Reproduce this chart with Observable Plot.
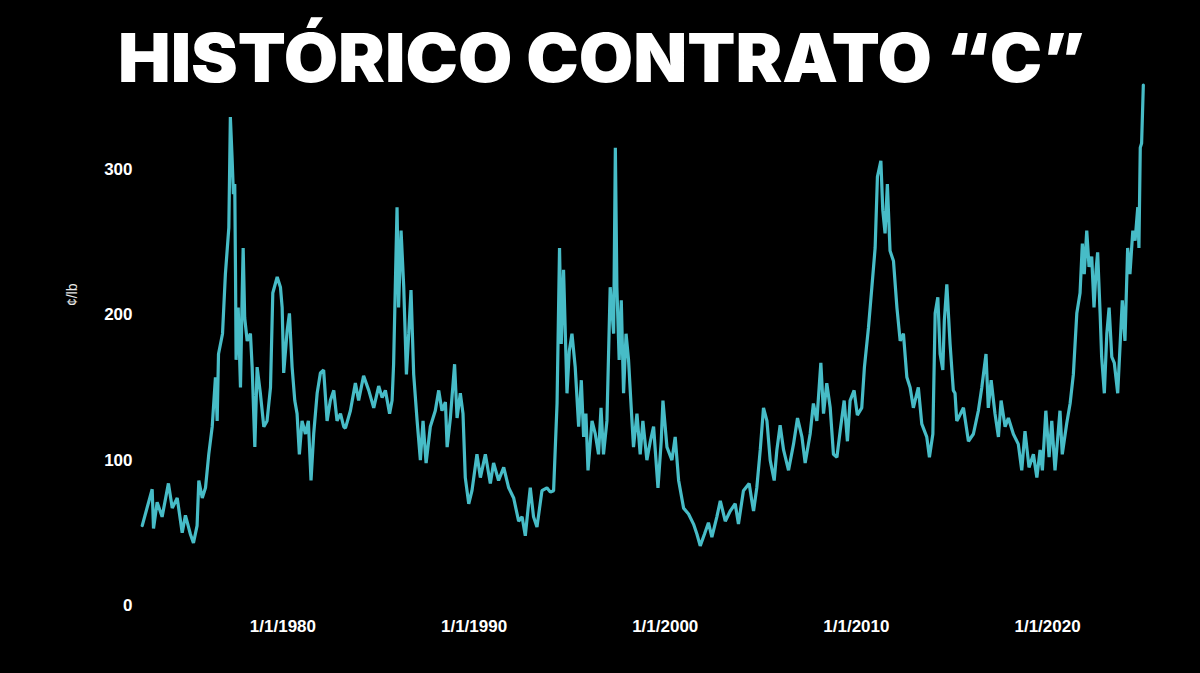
<!DOCTYPE html>
<html>
<head>
<meta charset="utf-8">
<script src="https://cdn.jsdelivr.net/npm/d3@7"></script>
<script src="https://cdn.jsdelivr.net/npm/@observablehq/plot@0.6"></script>
<style>
  html, body { margin: 0; padding: 0; background: #000; }
  #title { display: block; width: 1200px; height: 80px; overflow: visible; }
  #chart svg { overflow: visible; }
</style>
</head>
<body>
<svg id="title" width="1200" height="80">
  <text x="118" y="82" textLength="967" lengthAdjust="spacingAndGlyphs"
        fill="#fff" font-family="Inter, 'Open Sans', sans-serif" font-weight="900" font-size="67">HISTÓRICO CONTRATO “C”</text>
</svg>
<div id="chart"></div>
<script>
// Coffee "C" contract, ¢/lb
const years = [
  1972.64,1973.16,1973.23,1973.42,1973.68,1974.01,1974.21,1974.47,1974.73,1974.90,
  1975.16,1975.32,1975.51,1975.60,1975.78,1975.95,1976.12,1976.30,1976.47,1976.56,
  1976.63,1976.84,1976.99,1977.17,1977.25,1977.34,1977.41,1977.48,1977.52,1977.55,
  1977.66,1977.78,1977.87,1977.92,1978.00,1978.13,1978.30,1978.39,1978.53,1978.65,
  1978.82,1979.00,1979.17,1979.35,1979.47,1979.70,1979.87,1979.96,1980.04,1980.22,
  1980.34,1980.48,1980.62,1980.74,1980.86,1981.00,1981.18,1981.33,1981.47,1981.61,
  1981.79,1981.96,1982.13,1982.31,1982.48,1982.66,1982.83,1983.01,1983.18,1983.27,
  1983.53,1983.79,1983.96,1984.22,1984.49,1984.75,1985.01,1985.19,1985.36,1985.58,
  1985.71,1985.79,1985.97,1986.05,1986.18,1986.32,1986.46,1986.58,1986.70,1986.84,
  1987.02,1987.19,1987.33,1987.49,1987.71,1987.97,1988.15,1988.32,1988.50,1988.59,
  1988.76,1988.98,1989.11,1989.28,1989.42,1989.54,1989.72,1989.89,1990.15,1990.33,
  1990.59,1990.85,1991.02,1991.28,1991.55,1991.81,1992.07,1992.33,1992.51,1992.68,
  1992.85,1992.94,1993.11,1993.29,1993.55,1993.81,1993.99,1994.16,1994.34,1994.47,
  1994.56,1994.68,1994.86,1994.98,1995.12,1995.29,1995.47,1995.61,1995.73,1995.85,
  1995.96,1996.17,1996.34,1996.51,1996.64,1996.77,1996.95,1997.12,1997.30,1997.39,
  1997.47,1997.59,1997.70,1997.82,1997.95,1998.08,1998.22,1998.34,1998.52,1998.69,
  1998.83,1999.04,1999.22,1999.39,1999.62,1999.79,1999.88,2000.09,2000.35,2000.52,
  2000.70,2000.96,2001.22,2001.48,2001.66,2001.83,2002.05,2002.26,2002.44,2002.70,
  2002.88,2003.14,2003.40,2003.66,2003.83,2004.09,2004.39,2004.53,2004.62,2004.79,
  2004.97,2005.14,2005.32,2005.49,2005.70,2005.84,2006.01,2006.19,2006.45,2006.71,
  2006.92,2007.15,2007.32,2007.58,2007.75,2007.93,2008.14,2008.28,2008.45,2008.63,
  2008.80,2008.98,2009.15,2009.36,2009.53,2009.67,2009.88,2010.05,2010.28,2010.42,
  2010.63,2010.81,2010.98,2011.10,2011.28,2011.38,2011.50,2011.62,2011.76,2011.94,
  2012.12,2012.29,2012.46,2012.64,2012.81,2012.98,2013.24,2013.42,2013.68,2013.82,
  2014.00,2014.12,2014.26,2014.38,2014.52,2014.60,2014.73,2014.90,2015.07,2015.16,
  2015.25,2015.34,2015.60,2015.86,2016.12,2016.38,2016.56,2016.78,2016.90,2017.05,
  2017.25,2017.43,2017.57,2017.78,2017.95,2018.21,2018.47,2018.65,2018.82,2019.03,
  2019.26,2019.44,2019.61,2019.73,2019.91,2020.08,2020.22,2020.39,2020.65,2020.77,
  2021.00,2021.18,2021.35,2021.53,2021.70,2021.82,2021.92,2022.05,2022.17,2022.31,
  2022.43,2022.54,2022.62,2022.75,2022.83,2022.97,2023.10,2023.22,2023.36,2023.49,
  2023.67,2023.79,2023.91,2024.05,2024.19,2024.31,2024.46,2024.58,2024.72,2024.78,
  2024.85,2024.92,2025.01
];
const cents = [
  55,80,53,71,61,84,67,74,50,62,
  49,43,55,86,74,81,104,123,157,127,
  173,187,228,260,336,308,283,290,228,169,
  205,150,215,246,198,182,187,164,109,164,
  146,123,127,150,215,226,219,205,160,189,
  201,164,141,132,104,127,118,127,86,118,
  146,160,162,127,141,148,127,132,123,122,
  134,153,141,158,148,136,151,143,148,132,
  141,166,274,205,258,219,159,187,217,159,
  127,100,127,98,123,134,148,134,140,109,
  129,166,129,146,132,88,70,79,104,88,
  104,84,98,86,95,81,74,58,61,48,
  70,81,61,54,79,81,78,79,139,246,
  180,231,146,175,187,164,123,155,116,132,
  93,127,118,104,136,104,127,219,187,315,
  219,169,210,146,187,169,136,109,132,104,
  127,100,113,123,81,113,141,109,100,116,
  86,67,63,56,49,41,49,57,47,61,
  72,58,65,70,56,79,84,72,65,81,
  107,136,127,100,86,107,124,107,93,111,
  129,116,98,118,139,127,167,132,153,136,
  104,102,120,141,113,141,148,131,136,164,
  191,219,246,295,306,272,256,290,244,237,
  205,182,187,157,150,136,150,125,116,102,
  118,201,212,173,162,196,221,180,148,146,
  127,129,136,113,118,134,150,173,136,155,
  132,116,141,123,129,118,111,93,120,95,
  104,88,107,93,134,102,127,93,134,104,
  125,139,159,201,215,249,228,258,233,240,
  205,231,243,201,171,146,187,205,171,167,
  146,178,210,182,246,228,258,251,274,246,
  315,318,358
];
const yTicks = [0, 100, 200, 300];
const xTicks = [1980, 1990, 2000, 2010, 2020];
const unitLabel = "¢/lb";

const data = years.map((y, i) => ({year: y, price: cents[i]}));

const chart = Plot.plot({
  width: 1200,
  height: 593,
  marginLeft: 129.5,
  marginRight: 38.25,
  marginTop: 0,
  marginBottom: 68,
  style: {background: "transparent", color: "#fff", overflow: "visible"},
  x: {type: "linear", domain: [1972, 2026]},
  y: {domain: [0, 361.2]},
  marks: [
    Plot.line(data, {x: "year", y: "price", stroke: "#47bcc7", strokeWidth: 3.2, strokeLinejoin: "miter"}),
    Plot.axisY({ticks: yTicks, tickSize: 0, tickPadding: 0, dx: 2.5, label: null,
      fontSize: 17, fontWeight: "bold", fontFamily: "'Liberation Sans', Arial, sans-serif", fill: "#fff",
      tickFormat: d => String(d)}),
    Plot.axisX({ticks: xTicks, tickSize: 0, tickPadding: 14, label: null,
      fontSize: 17, fontWeight: "bold", fontFamily: "'Liberation Sans', Arial, sans-serif", fill: "#fff",
      tickFormat: d => `1/1/${d}`}),
    Plot.text([unitLabel], {text: d => d, frameAnchor: "left", y: 206, dx: -57, rotate: -90,
      fill: "#e8e8e8", fontSize: 14, fontFamily: "'Liberation Sans', Arial, sans-serif"})
  ]
});
document.getElementById("chart").appendChild(chart);
</script>
</body>
</html>
